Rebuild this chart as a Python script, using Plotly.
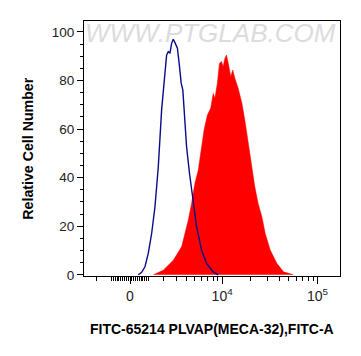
import numpy as np
import plotly.graph_objects as go

# Biexponential-like display transform: channel = asinh(value / C)
C = 2210.0

# Isotype control (blue outline) - positions on the display channel scale, counts (% of max)
blue_ch = [0.20, 0.28, 0.36, 0.44, 0.52, 0.60, 0.68, 0.76, 0.84, 0.88, 0.92, 0.96, 1.00,
           1.04, 1.08, 1.14, 1.19, 1.23, 1.27, 1.31, 1.36, 1.43, 1.51, 1.60, 1.72, 1.84,
           2.00, 2.12]
blue_y = [0, 1.0, 3.3, 8.9, 17, 28, 44.5, 67.9, 83, 90.5, 91.9, 91.2, 95.3,
          97, 95.6, 93.3, 85.7, 78.9, 76, 65, 52.7, 41.8, 30.8, 19.8, 10.2, 4.7,
          1.2, 0]

# PLVAP stained sample (red filled)
red_ch = [0.56, 0.80, 1.04, 1.24, 1.32, 1.40, 1.48, 1.56, 1.64, 1.72, 1.78, 1.86, 1.94,
          2.00, 2.04, 2.10, 2.15, 2.20, 2.24, 2.28, 2.32, 2.37, 2.42, 2.47, 2.52, 2.60,
          2.69, 2.76, 2.84, 2.93, 3.00, 3.08, 3.17, 3.25, 3.37, 3.53, 3.69, 3.93]
red_y = [0, 1.9, 6, 11.5, 17, 22.5, 29.4, 37.7, 43, 52.7, 59.6, 65.8, 68.6,
         74.7, 72.7, 78.9, 87.1, 87.8, 85.7, 89.1, 90.5, 86.4, 81.6, 84.3, 80.9, 76.8,
         70.6, 63.7, 54.1, 44.5, 36.3, 29.4, 23.9, 17, 10.2, 4.7, 1.2, 0]

major_vals = [0, 1e4, 1e5]
major_text = ["0", "10<sup>4</sup>", "10<sup>5</sup>"]

def tf(v):
    return np.arcsinh(np.asarray(v, dtype=float) / C)

x_range = [-1.106, 5.048]

minor_vals = []
for n in [2, 3, 4]:
    for k in range(1, 10):
        for s in (-1, 1):
            v = s * k * 10 ** n
            t = float(tf(v))
            if x_range[0] < t < x_range[1] and v not in major_vals:
                minor_vals.append(t)

FONT = "Liberation Sans, Arial, sans-serif"

fig = go.Figure()
fig.add_trace(go.Scatter(x=red_ch, y=red_y, mode="lines", fill="tozeroy",
                         fillcolor="#ff0000", line=dict(color="#ff0000", width=0.5),
                         hoverinfo="skip"))
fig.add_trace(go.Scatter(x=blue_ch, y=blue_y, mode="lines",
                         line=dict(color="#0a0a8c", width=1.4), hoverinfo="skip"))

fig.update_layout(
    width=353, height=348,
    margin=dict(l=76, r=21, t=13, b=80),
    paper_bgcolor="white", plot_bgcolor="white",
    showlegend=False,
    font=dict(family=FONT, color="#222222", size=13),
    xaxis=dict(
        range=x_range, showgrid=False, zeroline=False,
        showline=True, linecolor="black", linewidth=1, mirror=True,
        tickmode="array", tickvals=[float(tf(v)) for v in major_vals], ticktext=major_text,
        ticks="outside", ticklen=7, tickwidth=1.2, tickcolor="black",
        tickfont=dict(size=14, family=FONT, color="#222222"),
        minor=dict(tickmode="array", tickvals=minor_vals, ticks="outside",
                   ticklen=4, tickwidth=1, tickcolor="black", showgrid=False),
    ),
    yaxis=dict(
        range=[-0.5, 104.5], showgrid=False, zeroline=False,
        showline=True, linecolor="black", linewidth=1, mirror=True,
        tickmode="array", tickvals=[0, 20, 40, 60, 80, 100],
        ticks="outside", ticklen=6, tickwidth=1.2, tickcolor="black",
        tickfont=dict(size=13.5, family=FONT, color="#222222"),
        minor=dict(dtick=5, ticks="outside", ticklen=3, tickwidth=1,
                   tickcolor="black", showgrid=False),
    ),
    annotations=[
        dict(text="WWW.PTGLAB.COM", xref="paper", yref="paper", x=0.495, y=0.953,
             xanchor="center", yanchor="middle", showarrow=False,
             font=dict(size=26, family=FONT, color="#dcdcdc", style="italic")),
        dict(text="<b>Relative Cell Number</b>", xref="paper", yref="paper",
             x=-0.222, y=0.5, xanchor="center", yanchor="middle", textangle=-90,
             showarrow=False, font=dict(size=14.2, family=FONT, color="black")),
        dict(text="<b>FITC-65214 PLVAP(MECA-32),FITC-A</b>", xref="paper", yref="paper",
             x=0.5, y=-0.208, xanchor="center", yanchor="middle",
             showarrow=False, font=dict(size=14, family=FONT, color="black")),
    ],
)

fig.write_html("out.html")
